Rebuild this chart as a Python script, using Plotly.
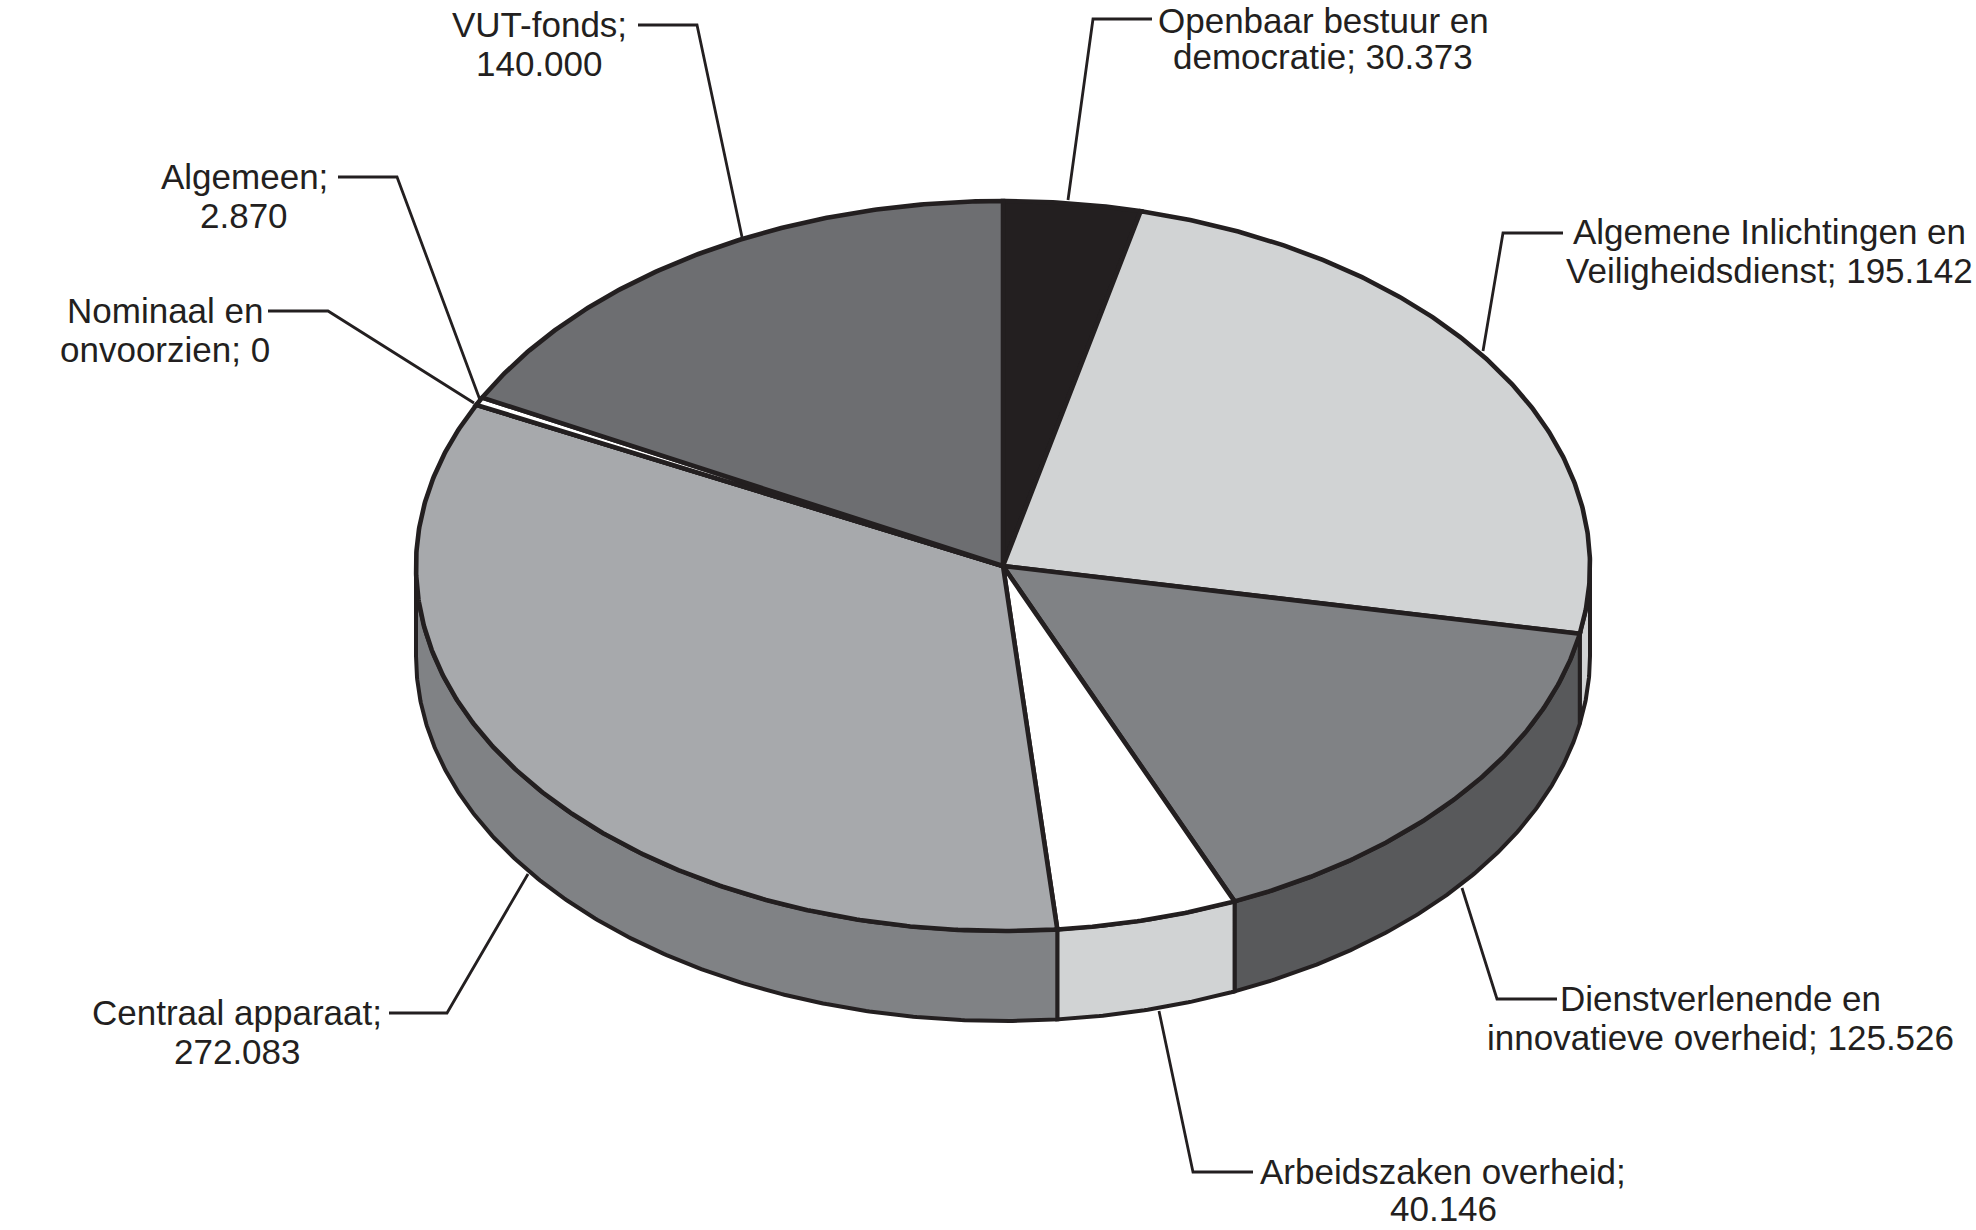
import numpy as np
import plotly.graph_objects as go

# ---- data ----
categories = ["Openbaar bestuur en democratie", "Algemene Inlichtingen en Veiligheidsdienst",
              "Dienstverlenende en innovatieve overheid", "Arbeidszaken overheid",
              "Centraal apparaat", "Nominaal en onvoorzien", "Algemeen", "VUT-fonds"]
values = [30373, 195142, 125526, 40146, 272083, 0, 2870, 140000]
label_line1 = ["Openbaar bestuur en", "Algemene Inlichtingen en", "Dienstverlenende en",
               "Arbeidszaken overheid;", "Centraal apparaat;", "Nominaal en", "Algemeen;", "VUT-fonds;"]
label_line2 = ["democratie; 30.373", "Veiligheidsdienst; 195.142", "innovatieve overheid; 125.526",
               "40.146", "272.083", "onvoorzien; 0", "2.870", "140.000"]

# ---- styles ----
top_colors = ["#231f20", "#d1d3d4", "#808285", "#ffffff", "#a7a9ac", "#231f20", "#ffffff", "#6d6e71"]
side_colors = ["#231f20", "#d1d3d4", "#58595b", "#d1d3d4", "#808285", "#231f20", "#ffffff", "#6d6e71"]
INK = "#231f20"

# ---- layout geometry (page pixels) ----
W, H = 1976, 1230
CX, CY, RX, RY, DEPTH = 1003, 566, 587, 365, 90
label_x = [1323, 1769, 1720, 1443, 237, 165, 244, 539]
line1_y = [20, 231, 998, 1171, 1012, 310, 176, 24]
line2_y = [56, 270, 1037, 1208, 1051, 349, 215, 63]
leader_x = [[1152, 1093, 1068], [1563, 1503, 1483], [1557, 1497, 1462], [1253, 1193, 1159],
            [389, 447, 528], [268, 328, 474], [338, 397, 480], [638, 697, 742]]
leader_y = [[19, 19, 200], [233, 233, 351], [999, 999, 888], [1172, 1172, 1011],
            [1013, 1013, 874], [311, 311, 403], [177, 177, 400], [25, 25, 237]]

fig = go.Figure()


def rim(deg, drop=0.0):
    t = np.radians(deg)
    return CX + RX * np.sin(t), CY - RY * np.cos(t) + drop


cum = np.concatenate([[0.0], np.cumsum(values)]) / sum(values) * 360.0
starts, ends = cum[:-1], cum[1:]

# side walls: only the front half of the disc is visible
for a, b, col, name in zip(starts, ends, side_colors, categories):
    lo, hi = max(a, 90.0), min(b, 270.0)
    if hi <= lo:
        continue
    ts = np.linspace(lo, hi, max(3, int((hi - lo) * 3)))
    x0, y0 = rim(ts)
    x1, y1 = rim(ts[::-1], DEPTH)
    fig.add_trace(go.Scatter(x=np.r_[x0, x1, x0[0]], y=np.r_[y0, y1, y0[0]], mode="lines",
                             fill="toself", fillcolor=col, name=name,
                             line=dict(color=INK, width=4), hoverinfo="skip"))

# top slices
for a, b, col, name in zip(starts, ends, top_colors, categories):
    ts = np.linspace(a, b, max(3, int((b - a) * 3)))
    xs, ys = rim(ts)
    fig.add_trace(go.Scatter(x=np.r_[CX, xs, CX], y=np.r_[CY, ys, CY], mode="lines",
                             fill="toself", fillcolor=col, name=name,
                             line=dict(color=INK, width=4.6), hoverinfo="skip"))

# leader lines
for lx, ly, name in zip(leader_x, leader_y, categories):
    fig.add_trace(go.Scatter(x=lx, y=ly, mode="lines", name=name,
                             line=dict(color=INK, width=2.8), hoverinfo="skip"))

for tx, y1, y2, t1, t2 in zip(label_x, line1_y, line2_y, label_line1, label_line2):
    for ty, txt in ((y1, t1), (y2, t2)):
        fig.add_annotation(x=tx, y=ty, text=txt, showarrow=False, xanchor="center", yanchor="middle",
                           align="center", font=dict(family="Liberation Sans", size=35, color=INK))

fig.update_layout(width=W, height=H, margin=dict(l=0, r=0, t=0, b=0), showlegend=False,
                  paper_bgcolor="white", plot_bgcolor="white",
                  xaxis=dict(range=[0, W], visible=False, fixedrange=True),
                  yaxis=dict(range=[H, 0], visible=False, fixedrange=True))
fig.write_html("out.html", config={"displayModeBar": False},
               post_script="document.body.style.margin='0';")
